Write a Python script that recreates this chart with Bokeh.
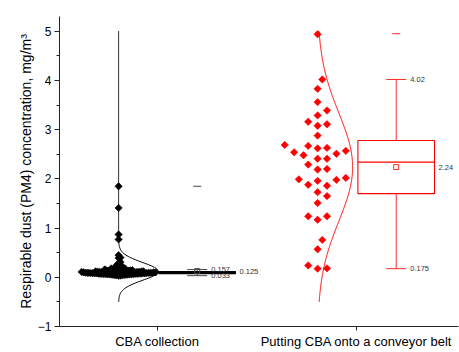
import numpy as np
from bokeh.plotting import figure
from bokeh.models import Range1d, FixedTicker
from bokeh.core.properties import value
from bokeh.embed import file_html
from bokeh.resources import INLINE

# ---------------- data ----------------
categories = ["CBA collection", "Putting CBA onto a conveyor belt"]
cat_pos = [1, 2]

cba_values = [
    1.85, 1.41, 0.87, 0.77, 0.45, 0.40, 0.39, 0.31, 0.28, 0.25, 0.24, 0.24,
    0.22, 0.20, 0.20, 0.19, 0.18, 0.18, 0.17, 0.17, 0.16, 0.16,
    0.03, 0.035, 0.04, 0.04, 0.045, 0.05, 0.05, 0.05, 0.055, 0.055,
    0.06, 0.06, 0.06, 0.06, 0.065, 0.065, 0.065, 0.07, 0.07, 0.07,
    0.07, 0.07, 0.075, 0.075, 0.075, 0.075, 0.08, 0.08, 0.08, 0.08,
    0.08, 0.08, 0.085, 0.085, 0.085, 0.085, 0.085, 0.09, 0.09, 0.09,
    0.09, 0.09, 0.09, 0.09, 0.095, 0.095, 0.095, 0.095, 0.095, 0.10,
    0.10, 0.10, 0.10, 0.10, 0.10, 0.105, 0.105, 0.105, 0.105, 0.11,
    0.11, 0.11, 0.11, 0.11, 0.115, 0.115, 0.115, 0.12, 0.12, 0.12,
    0.12, 0.125, 0.125, 0.13, 0.13, 0.13, 0.135, 0.135, 0.14, 0.14,
    0.145, 0.15, 0.15, 0.155,
]
belt_values = [
    4.94, 4.02, 3.83, 3.56, 3.39, 3.29, 3.08, 3.16, 3.11, 2.88,
    2.63, 2.69, 2.67, 2.62, 2.57, 2.54, 2.51, 2.48, 2.41, 2.41,
    2.29, 2.20, 2.19, 1.98, 1.88, 1.96, 1.86, 1.99, 2.02, 1.73,
    1.65, 1.51, 1.24, 1.17, 1.24, 0.76, 0.57, 0.18, 0.175, 0.24,
]

# box statistics
q1 = [0.075, 1.70]
median = [0.095, 2.34]
q3 = [0.115, 2.78]
whisker_lo = [0.033, 0.175]
whisker_hi = [0.157, 4.02]
means = [0.125, 2.24]
maxima = [1.85, 4.95]

# fitted normal curves
curve_mu = [0.12, 2.24]
curve_sd = [0.18, 1.10]
curve_lo = [-0.5, -0.5]
curve_hi = [5.0, 5.0]

colors = ["#000000", "#FF0000"]
stat_colors = ["#444444", "#FF2A2A"]

# ---------------- layout ----------------
W, H = 459, 352
BL, BR, BT, BB = 59, 1, 16, 26
X0, X1 = 0.508, 2.513
Y0, Y1 = -1.0, 5.3
xpx = (W - BL - BR) / (X1 - X0)
ypx = (H - BT - BB) / (Y1 - Y0)

box_off = 0.2
swarm_off = -0.195
box_w = 0.385
cap_w = 0.1
curve_w = [0.20, 0.176]
swarm_d = [1.85, 9.4]

p = figure(width=W, height=H, x_range=Range1d(X0, X1), y_range=Range1d(Y0, Y1),
           output_backend="svg", toolbar_location=None,
           min_border_left=BL, min_border_right=BR, min_border_top=BT,
           min_border_bottom=BB)
p.outline_line_color = None
p.xgrid.visible = False
p.ygrid.visible = False
p.background_fill_color = "white"


def swarm(vals, d):
    step = d / 2.0
    order = np.argsort(vals, kind="stable")
    placed = []
    offs = np.zeros(len(vals))
    cands = [0]
    for j in range(1, 400):
        cands += [j, -j]
    for i in order:
        y = vals[i] * ypx
        for c in cands:
            x = c * step
            ok = True
            for (px_, py_) in placed:
                if (x - px_) ** 2 + (y - py_) ** 2 < d * d - 1e-9:
                    ok = False
                    break
            if ok:
                placed.append((x, y))
                offs[i] = x / xpx
                break
    return offs


groups = [cba_values, belt_values]
for g, vals in enumerate(groups):
    vals = np.array(vals)
    base = cat_pos[g] + swarm_off
    # swarm points
    offs = swarm(vals, swarm_d[g])
    p.scatter(base + offs, vals, marker="square", angle=np.pi / 4, size=5.2,
              fill_color=colors[g], line_color=colors[g], line_width=0.6)
    # normal curve
    ys = np.linspace(curve_lo[g], curve_hi[g], 400)
    xs = base + curve_w[g] * np.exp(-(ys - curve_mu[g]) ** 2 / (2 * curve_sd[g] ** 2))
    p.line(xs, ys, line_color=colors[g], line_width=1)

    bc = cat_pos[g] + box_off
    bcol = colors[g]
    # whiskers
    p.segment(x0=[bc, bc], y0=[q3[g], q1[g]], x1=[bc, bc], y1=[whisker_hi[g], whisker_lo[g]],
              line_color=stat_colors[g], line_width=1)
    p.segment(x0=[bc - cap_w / 2] * 2, y0=[whisker_hi[g], whisker_lo[g]],
              x1=[bc + cap_w / 2] * 2, y1=[whisker_hi[g], whisker_lo[g]],
              line_color=stat_colors[g], line_width=1)
    # box
    p.quad(left=[bc - box_w / 2], right=[bc + box_w / 2], bottom=[q1[g]], top=[q3[g]],
           fill_color=bcol if g == 0 else None, line_color=bcol, line_width=1.1)
    p.segment(x0=[bc - box_w / 2], y0=[median[g]], x1=[bc + box_w / 2], y1=[median[g]],
              line_color=bcol, line_width=1.1)
    # mean and max markers
    p.scatter([bc], [means[g]], marker="square", size=5, fill_color="white",
              fill_alpha=0 if g == 0 else 1,
              line_color=stat_colors[g], line_width=1)
    p.scatter([bc], [maxima[g]], marker="dash", size=8, line_color=stat_colors[g],
              line_width=1)
    # labels
    p.text(x=[bc, bc], y=[whisker_hi[g], whisker_lo[g]],
           text=[f"{whisker_hi[g]:g}", f"{whisker_lo[g]:g}"], x_offset=14,
           text_baseline="middle", text_align="left",
           text_font=value("Liberation Sans"), text_font_size="7.5px",
           text_color="#333333")
    p.text(x=[bc + box_w / 2], y=[means[g]], text=[f"{means[g]:g}"], x_offset=4,
           text_baseline="middle", text_align="left",
           text_font=value("Liberation Sans"), text_font_size="7.5px",
           text_color="#333333")

# ---------------- axes ----------------
p.xaxis.ticker = FixedTicker(ticks=cat_pos)
p.xaxis.major_label_overrides = {cat_pos[i]: categories[i] for i in range(2)}
p.xaxis.major_tick_in = 0
p.xaxis.major_tick_out = 4
p.xaxis.major_label_standoff = 3
p.xaxis.major_label_text_font = "Liberation Sans"
p.xaxis.major_label_text_font_size = "13px"
p.xaxis.major_label_text_color = "#000000"

p.yaxis.ticker = FixedTicker(ticks=[-1, 0, 1, 2, 3, 4, 5],
                             minor_ticks=[-0.5, 0.5, 1.5, 2.5, 3.5, 4.5])
p.yaxis.major_tick_in = 0
p.yaxis.major_tick_out = 5
p.yaxis.minor_tick_in = 0
p.yaxis.minor_tick_out = 3
p.yaxis.major_label_standoff = 3
p.yaxis.major_label_text_font = "Liberation Sans"
p.yaxis.major_label_text_font_size = "12px"
p.yaxis.major_label_text_color = "#000000"
p.yaxis.axis_label = "Respirable dust (PM4) concentration, mg/m³"
p.yaxis.axis_label_text_font = "Liberation Sans"
p.yaxis.axis_label_text_font_size = "14px"
p.yaxis.axis_label_text_font_style = "normal"
p.yaxis.axis_label_text_color = "#000000"
p.yaxis.axis_label_standoff = 1
for ax in (p.xaxis, p.yaxis):
    ax.axis_line_color = "#222222"
    ax.major_tick_line_color = "#222222"
    ax.minor_tick_line_color = "#222222"
p.xaxis.minor_tick_line_color = None

open("out.html", "w").write(file_html(p, INLINE))
